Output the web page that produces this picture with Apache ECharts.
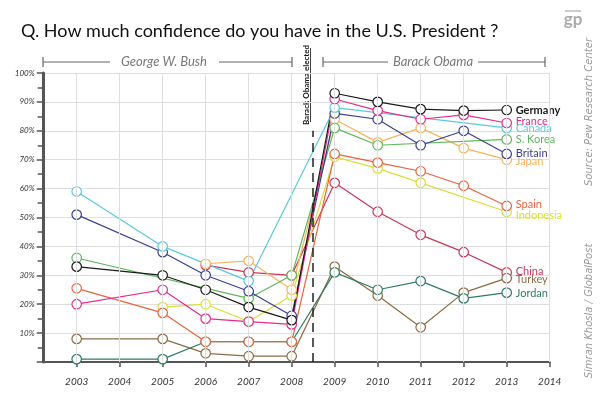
<!DOCTYPE html>
<html>
<head>
<meta charset="utf-8">
<script src="https://cdn.jsdelivr.net/npm/echarts@6/dist/echarts.min.js"></script>
<style>
  html, body { margin: 0; padding: 0; background: #fff; }
  #chart { width: 600px; height: 399px; }
</style>
</head>
<body>
<div id="chart"></div>
<script>
// survey years (2004 had no survey)
var years = [2003, 2004, 2005, 2006, 2007, 2008, 2009, 2010, 2011, 2012, 2013];
var tickYears = [2003, 2004, 2005, 2006, 2007, 2008, 2009, 2010, 2011, 2012, 2013, 2014];
var yTicks = [10, 20, 30, 40, 50, 60, 70, 80, 90, 100];

// confidence in the U.S. president, % (null = not surveyed)
var germany   = [33, null, 30, 25, 19, 14.5, 93, 90, 87.5, 87, 87.2];
var france    = [20, null, 25, 15, 14, 13, 91, 87, 84, 85.5, 82.7];
var canada    = [59, null, 40, null, 28, null, 88, null, null, null, 81];
var sKorea    = [36, null, null, null, 22, 30, 81, 75, null, null, 77];
var britain   = [51, null, 38, 30, 24.5, 16, 86, 84, 75, 80, 72];
var japan     = [null, null, null, 34, 35, 25, 84, 76, 81, 74, 70];
var spain     = [25.5, null, 17, 7, 7, 7, 72, 69, 66, 61, 54];
var indonesia = [null, null, 19, 20, 14, 23, 71, 67, 62, null, 52];
var china     = [null, null, null, 33.5, 31, 30, 62, 52, 44, 38, 31];
var turkey    = [8, null, 8, 3, 2, 2, 33, 23, 12, 24, 29];
var jordan    = [1, null, 1, 7, 7, 7, 31, 25, 28, 22, 24];

var electedAt = 2008.5;
var font = 'Lato, "DejaVu Sans", sans-serif';
var wideFont = '"DejaVu Sans", sans-serif';

function pairs(vals) {
  var out = [];
  for (var i = 0; i < years.length; i++) {
    if (vals[i] !== null) out.push([years[i], vals[i]]);
  }
  return out;
}

function country(name, vals, color, dy, bold) {
  return {
    name: name,
    type: 'line',
    z: 3,
    data: pairs(vals),
    symbol: 'circle',
    symbolSize: 9.5,
    showAllSymbol: true,
    lineStyle: { color: color, width: 1.2 },
    itemStyle: { color: '#fff', borderColor: color, borderWidth: 1.2 },
    emphasis: { disabled: true },
    endLabel: {
      show: true,
      formatter: '{a}',
      color: color,
      fontFamily: font,
      fontSize: 11,
      fontWeight: bold ? 'bold' : 'normal',
      distance: 9,
      offset: [0, dy || 0]
    }
  };
}

var chart = echarts.init(document.getElementById('chart'), null, { renderer: 'canvas' });

var option = {
  animation: false,
  backgroundColor: '#fff',
  title: {
    text: 'Q. How much confidence do you have in the U.S. President ?',
    left: 16,
    top: 17,
    textStyle: { fontFamily: font, fontSize: 18, fontWeight: 'normal', color: '#111' }
  },
  grid: { left: 43.7, right: 50.3, top: 73, bottom: 37 },
  xAxis: {
    type: 'value',
    min: 2002.233,
    max: 2014,
    axisLine: { show: true, lineStyle: { color: '#555', width: 2 } },
    axisTick: { show: true, customValues: tickYears, length: 5, inside: false, lineStyle: { color: '#555', width: 1.5 } },
    axisLabel: {
      customValues: tickYears,
      margin: 15,
      fontFamily: font,
      fontStyle: 'italic',
      fontSize: 10,
      color: '#333',
      formatter: function (v) { return String(Math.round(v)); }
    },
    splitLine: { show: false }
  },
  yAxis: {
    type: 'value',
    min: 0,
    max: 100,
    interval: 10,
    axisLine: { show: true, lineStyle: { color: '#555', width: 3 } },
    axisTick: { show: true, length: 7, lineStyle: { color: '#555', width: 1.5 } },
    minorTick: { show: true, splitNumber: 2, length: 6, lineStyle: { color: '#555', width: 1.5 } },
    axisLabel: {
      margin: 9,
      fontFamily: font,
      fontStyle: 'italic',
      fontSize: 8,
      color: '#333',
      formatter: function (v) { return yTicks.indexOf(v) >= 0 ? v + '%' : ''; }
    },
    splitLine: { show: true, lineStyle: { color: '#dedede', width: 1 } }
  },
  series: [
    {
      // vertical grid lines + election marker
      type: 'line',
      z: 1,
      data: [],
      silent: true,
      markLine: {
        silent: true,
        symbol: 'none',
        label: { show: false },
        lineStyle: { color: '#dedede', width: 1, type: 'solid' },
        data: tickYears.map(function (y) { return { xAxis: y }; }).concat([[
          { coord: [electedAt, 0], lineStyle: { color: '#222', width: 1.5, type: [9, 6] } },
          { coord: [electedAt, 80] }
        ]])
      }
    },
    country('China', china, '#c8385c', -1),
    country('Turkey', turkey, '#8b6b45', 1.5),
    country('Jordan', jordan, '#2f7d5f', 0.5),
    country('Indonesia', indonesia, '#dcdc3a', 3.5),
    country('Spain', spain, '#e8643c', -1),
    country('Japan', japan, '#f6b45c', 2),
    country('S. Korea', sKorea, '#5cb85c', 0),
    country('Britain', britain, '#3b3f8f', 0),
    country('Canada', canada, '#5bc8e0', 1),
    country('France', france, '#e52b8c', -2),
    country('Germany', germany, '#1a1a1a', 0, true)
  ],
  graphic: [
    // presidency brackets
    { type: 'line', shape: { x1: 43, y1: 62, x2: 110, y2: 62 }, style: { stroke: '#666', lineWidth: 1 } },
    { type: 'line', shape: { x1: 219, y1: 62, x2: 292, y2: 62 }, style: { stroke: '#666', lineWidth: 1 } },
    { type: 'line', shape: { x1: 43, y1: 57, x2: 43, y2: 67 }, style: { stroke: '#666', lineWidth: 1.2 } },
    { type: 'line', shape: { x1: 292, y1: 57, x2: 292, y2: 67 }, style: { stroke: '#666', lineWidth: 1.2 } },
    { type: 'text', x: 164, y: 62, style: { text: 'George W. Bush', fill: '#777', font: 'italic 13px ' + font, textAlign: 'center', textVerticalAlign: 'middle' } },
    { type: 'line', shape: { x1: 323, y1: 62, x2: 388, y2: 62 }, style: { stroke: '#666', lineWidth: 1 } },
    { type: 'line', shape: { x1: 478, y1: 62, x2: 545, y2: 62 }, style: { stroke: '#666', lineWidth: 1 } },
    { type: 'line', shape: { x1: 323, y1: 57, x2: 323, y2: 67 }, style: { stroke: '#666', lineWidth: 1.2 } },
    { type: 'line', shape: { x1: 545, y1: 57, x2: 545, y2: 67 }, style: { stroke: '#666', lineWidth: 1.2 } },
    { type: 'text', x: 433, y: 62, style: { text: 'Barack Obama', fill: '#777', font: 'italic 13px ' + font, textAlign: 'center', textVerticalAlign: 'middle' } },
    // election note
    { type: 'text', x: 306, y: 85, rotation: Math.PI / 2, style: { text: 'Barack Obama elected', fill: '#111', font: 'bold 8px ' + font, textAlign: 'center', textVerticalAlign: 'middle' } },
    { type: 'line', shape: { x1: 310.5, y1: 48, x2: 310.5, y2: 122 }, style: { stroke: '#111', lineWidth: 0.8 } },
    // side credits
    { type: 'text', x: 589, y: 112, rotation: Math.PI / 2, style: { text: 'Source: Pew Research Center', fill: '#999', font: 'italic 10px ' + wideFont, textAlign: 'center', textVerticalAlign: 'middle' } },
    { type: 'text', x: 589, y: 311, rotation: Math.PI / 2, style: { text: 'Simran Khosla / GlobalPost', fill: '#999', font: 'italic 10px ' + wideFont, textAlign: 'center', textVerticalAlign: 'middle' } },
    // gp logo
    { type: 'text', x: 573, y: 20, style: { text: 'gp', fill: '#aaa', font: 'bold 17px ' + font, textAlign: 'center', textVerticalAlign: 'middle' } },
    { type: 'line', shape: { x1: 565, y1: 11, x2: 581, y2: 11 }, style: { stroke: '#aaa', lineWidth: 1.2 } }
  ]
};

chart.setOption(option);
</script>
</body>
</html>
